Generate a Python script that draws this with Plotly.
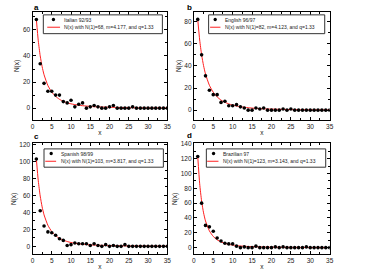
import plotly.graph_objects as go

# ---------------- data ----------------
x_counts = list(range(1, 36))
italian = [68, 34, 19, 13, 13, 10, 10, 5, 4, 6, 1, 3, 4, 0, 1, 2, 1, 0, 0, 1, 2, 0, 0, 0, 0, 1, 0, 0, 0, 0, 0, 0, 0, 0, 0]
english = [82, 50, 31, 18, 14, 14, 7, 8, 4, 4, 5, 3, 2, 0, 0, 2, 1, 2, 0, 0, 0, 0, 1, 0, 1, 0, 0, 0, 0, 0, 0, 0, 0, 0, 0]
spanish = [103, 42, 24, 17, 16, 13, 9, 7, 1, 2, 4, 3, 3, 3, 1, 3, 1, 0, 2, 0, 1, 0, 0, 2, 0, 0, 0, 0, 0, 0, 0, 0, 0, 0, 0]
brazilian = [123, 60, 30, 28, 22, 13, 9, 6, 5, 5, 2, 0, 1, 0, 0, 2, 0, 0, 0, 0, 1, 0, 1, 0, 0, 0, 0, 0, 1, 0, 0, 0, 0, 0, 0]

x_fit = [1, 1.5, 2, 2.5, 3, 4, 5, 6, 7, 8, 9, 10, 12, 14, 16, 18, 20, 25, 30, 35]
italian_fit = [68, 51.6, 40.1, 31.8, 25.6, 17.3, 12.3, 9.0, 6.8, 5.2, 4.1, 3.3, 2.2, 1.6, 1.1, 0.86, 0.66, 0.37, 0.23, 0.15]
english_fit = [82, 63.4, 50, 40.2, 32.7, 22.5, 16.2, 12, 9.1, 7.1, 5.7, 4.6, 3.1, 2.2, 1.6, 1.2, 0.94, 0.54, 0.34, 0.22]
spanish_fit = [103, 77.2, 59.3, 46.5, 37.1, 24.8, 17.4, 12.6, 9.4, 7.3, 5.7, 4.5, 3.0, 2.1, 1.5, 1.15, 0.89, 0.5, 0.31, 0.2]
brazilian_fit = [123, 86.1, 62.6, 46.9, 36, 22.6, 15.1, 10.5, 7.7, 5.7, 4.4, 3.5, 2.2, 1.5, 1.1, 0.81, 0.61, 0.34, 0.21, 0.13]

series_names = ["Italian 92/93", "English 96/97", "Spanish 98/99", "Brazilian 97"]
fit_labels = [
    "N(x) with N(1)=68, m=4.177, and q=1.33",
    "N(x) with N(1)=82, m=4.123, and q=1.33",
    "N(x) with N(1)=103, m=3.817, and q=1.33",
    "N(x) with N(1)=123, m=3.143, and q=1.33",
]
panel_letters = ["a", "b", "c", "d"]
y_ranges = [[-9.1, 73.8], [-8.9, 88.8], [-9.3, 121.3], [-8.9, 140.5]]
y_ticks = [[0, 20, 40, 60], [0, 20, 40, 60, 80], [0, 20, 40, 60, 80, 100, 120],
           [0, 20, 40, 60, 80, 100, 120, 140]]
x_ticks = [0, 5, 10, 15, 20, 25, 30, 35]

counts = [italian, english, spanish, brazilian]
fits = [italian_fit, english_fit, spanish_fit, brazilian_fit]

# ---------------- layout geometry (pixels) ----------------
W, H = 373, 275
def px(v):
    return v / W
def py(v):
    return 1 - v / H

boxes = [(31, 9, 168, 118.3), (195, 9, 333, 118.3), (31, 142, 168, 254), (195, 142, 333, 254)]
legend_boxes = [(42, 12, 163, 31), (210, 12, 328, 31), (42.7, 147.5, 164, 166), (207.7, 147.5, 329, 166)]
legend_dot_x = [52.3, 216.7, 50, 215]
legend_line_x = [(46, 59), (211.5, 222), (44, 55), (208.5, 220)]
legend_text_x = [61, 224.3, 58.3, 222.7]
letter_pos = [(32, -1), (186.5, -1), (32, 129), (186.5, 128)]

FONT = "Liberation Sans, Arial, sans-serif"
fig = go.Figure()
layout = dict(
    width=W, height=H, autosize=False,
    margin=dict(l=0, r=0, t=0, b=0),
    paper_bgcolor="white", plot_bgcolor="white",
    showlegend=False,
    font=dict(family=FONT, size=6.5, color="#222"),
)
annotations = []
shapes = []

for i in range(4):
    sfx = "" if i == 0 else str(i + 1)
    xa, ya = "x" + sfx, "y" + sfx
    x0, y0, x1, y1 = boxes[i]
    fig.add_trace(go.Scatter(x=x_fit, y=fits[i], mode="lines", line=dict(color="#ff2020", width=1, shape="spline", smoothing=0.6),
                             xaxis=xa, yaxis=ya, name=fit_labels[i]))
    fig.add_trace(go.Scatter(x=x_counts, y=counts[i], mode="markers", marker=dict(color="black", size=3.6),
                             xaxis=xa, yaxis=ya, name=series_names[i]))
    common = dict(showline=True, linecolor="black", linewidth=1, mirror="allticks", ticks="inside",
                  ticklen=3, tickwidth=0.8, tickcolor="black", showgrid=False, zeroline=False,
                  tickfont=dict(family=FONT, size=6.5, color="#222"))
    layout["xaxis" + sfx] = dict(common, domain=[px(x0), px(x1)], range=[0, 35], tickvals=x_ticks,
                                 anchor=ya, minor=dict(ticks="inside", ticklen=2, dtick=2.5, tickcolor="black", tickwidth=0.8),
                                 title=dict(text="x", font=dict(family=FONT, size=6.5, color="#222"), standoff=1))
    layout["yaxis" + sfx] = dict(common, domain=[py(y1), py(y0)], range=y_ranges[i], tickvals=y_ticks[i],
                                 anchor=xa, minor=dict(ticks="inside", ticklen=2, dtick=10, tickcolor="black", tickwidth=0.8),
                                 title=dict(text="N(x)", font=dict(family=FONT, size=6.5, color="#222"), standoff=2))
    # panel letter
    lx, ly = letter_pos[i]
    annotations.append(dict(text="<b>%s</b>" % panel_letters[i], x=px(lx), y=py(ly), xref="paper", yref="paper",
                            xanchor="left", yanchor="top", showarrow=False, borderpad=0,
                            font=dict(family=FONT, size=8, color="black")))
    # legend box
    bx0, by0, bx1, by1 = legend_boxes[i]
    shapes.append(dict(type="rect", xref="paper", yref="paper", x0=px(bx0), x1=px(bx1), y0=py(by1), y1=py(by0),
                       line=dict(color="#333", width=1), fillcolor="white", layer="above"))
    r1 = by0 + 4.7
    r2 = by0 + 12.5
    d = 1.7
    cx = legend_dot_x[i]
    shapes.append(dict(type="circle", xref="paper", yref="paper", x0=px(cx - d), x1=px(cx + d), y0=py(r1 + d), y1=py(r1 - d),
                       line=dict(width=0), fillcolor="black", layer="above"))
    lx0, lx1 = legend_line_x[i]
    shapes.append(dict(type="line", xref="paper", yref="paper", x0=px(lx0), x1=px(lx1), y0=py(r2), y1=py(r2),
                       line=dict(color="#ff2020", width=1), layer="above"))
    annotations.append(dict(text=series_names[i], x=px(legend_text_x[i]), y=py(r1), xref="paper", yref="paper",
                            xanchor="left", yanchor="middle", showarrow=False, font=dict(family=FONT, size=5, color="#222")))
    annotations.append(dict(text=fit_labels[i], x=px(legend_text_x[i]), y=py(r2), xref="paper", yref="paper",
                            xanchor="left", yanchor="middle", showarrow=False, font=dict(family=FONT, size=5, color="#222")))

layout["annotations"] = annotations
layout["shapes"] = shapes
fig.update_layout(**layout)
fig.write_html("out.html", config={"displayModeBar": False},
               post_script="document.body.style.margin='0px';")
